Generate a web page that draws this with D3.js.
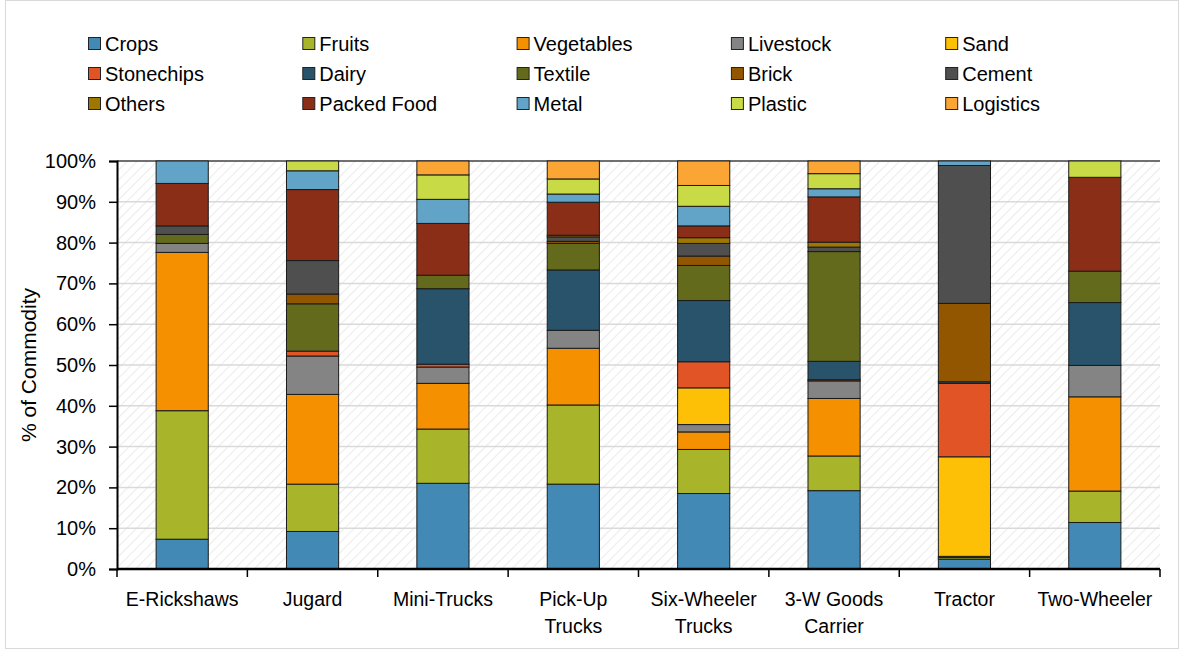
<!DOCTYPE html>
<html>
<head>
<meta charset="utf-8">
<script src="https://cdn.jsdelivr.net/npm/d3@7"></script>
<style>
  html, body { margin: 0; padding: 0; background: #fff; }
  svg { display: block; font-family: "Liberation Sans", Arial, sans-serif; }
</style>
</head>
<body>
<svg id="chart" width="1184" height="653"></svg>
<script>
// Vehicle types on the x axis (multi-line labels split on "\n")
const vehicles = ["E-Rickshaws", "Jugard", "Mini-Trucks", "Pick-Up\nTrucks",
  "Six-Wheeler\nTrucks", "3-W Goods\nCarrier", "Tractor", "Two-Wheeler"];

// Commodity series, in stacking order (bottom to top)
const commodities = ["Crops", "Fruits", "Vegetables", "Livestock", "Sand",
  "Stonechips", "Dairy", "Textile", "Brick", "Cement",
  "Others", "Packed Food", "Metal", "Plastic", "Logistics"];

const colors = ["#4389b6", "#a8b52a", "#f59000", "#848484", "#fdc007",
  "#e05426", "#28536b", "#646a1c", "#935600", "#4f4f4f",
  "#9e7700", "#8a2e17", "#62a4c8", "#c8da45", "#fba634"];

// Share (%) of each commodity per vehicle type, one array per commodity
const crops      = [7.3,  9.2, 21.0, 20.8, 18.5, 19.2,  2.4, 11.4];
const fruits     = [31.5, 11.6, 13.3, 19.4, 10.8,  8.5,  0.4,  7.7];
const vegetables = [38.8, 22.0, 11.2, 13.9,  4.3, 14.1,  0.3, 23.1];
const livestock  = [2.2,  9.4,  4.0,  4.4,  1.8,  4.3,  0.0,  7.7];
const sand       = [0.0,  0.0,  0.0,  0.0,  9.0,  0.0, 24.4,  0.0];
const stonechips = [0.0,  1.2,  0.7,  0.0,  6.4,  0.3, 18.0,  0.0];
const dairy      = [0.0,  0.0, 18.5, 14.8, 15.0,  4.5,  0.4, 15.4];
const textile    = [2.2, 11.6,  3.3,  6.5,  8.6, 26.9,  0.0,  7.7];
const brick      = [0.0,  2.4,  0.0,  0.5,  2.3,  0.0, 19.2,  0.0];
const cement     = [2.1,  8.2,  0.0,  1.1,  3.1,  1.1, 33.8,  0.0];
const others     = [0.0,  0.0,  0.0,  0.4,  1.4,  1.2,  0.0,  0.0];
const packedFood = [10.4, 17.4, 12.7,  8.1,  2.9, 11.1,  0.0, 23.0];
const metal      = [5.5,  4.6,  5.9,  2.0,  4.8,  2.0,  1.1,  0.0];
const plastic    = [0.0,  2.4,  6.0,  3.7,  5.1,  3.7,  0.0,  4.0];
const logistics  = [0.0,  0.0,  3.4,  4.4,  6.0,  3.1,  0.0,  0.0];

const yTicks = [0, 10, 20, 30, 40, 50, 60, 70, 80, 90, 100];

const seriesValues = [crops, fruits, vegetables, livestock, sand, stonechips,
  dairy, textile, brick, cement, others, packedFood, metal, plastic, logistics];

// Build row objects for d3.stack
const rows = vehicles.map((v, i) => {
  const r = { vehicle: v };
  commodities.forEach((c, k) => { r[c] = seriesValues[k][i]; });
  return r;
});

const svg = d3.select("#chart");
const W = 1184, H = 653;
const margin = { left: 117, right: 24, top: 161, bottom: 84 };
const plotW = W - margin.left - margin.right;
const plotH = H - margin.top - margin.bottom;

// Outer chart frame
svg.append("rect")
  .attr("x", 5.5).attr("y", 0.5)
  .attr("width", W - 11).attr("height", H - 5)
  .attr("fill", "#fff").attr("stroke", "#d9d9d9").attr("stroke-width", 1);

// Diagonal hatch fill for the plot background
const defs = svg.append("defs");
const pat = defs.append("pattern")
  .attr("id", "hatch")
  .attr("patternUnits", "userSpaceOnUse")
  .attr("width", 7).attr("height", 7)
  .attr("patternTransform", "rotate(45)");
pat.append("rect").attr("width", 7).attr("height", 7).attr("fill", "#ffffff");
pat.append("line")
  .attr("x1", 0).attr("y1", 0).attr("x2", 0).attr("y2", 7)
  .attr("stroke", "#ececec").attr("stroke-width", 2.2);

const g = svg.append("g").attr("transform", `translate(${margin.left},${margin.top})`);

const x = d3.scaleBand().domain(vehicles).range([0, plotW]).paddingInner(0.6).paddingOuter(0.3);
const xBand = d3.scaleBand().domain(vehicles).range([0, plotW]);
const y = d3.scaleLinear().domain([0, 100]).range([plotH, 0]);

g.append("rect")
  .attr("width", plotW).attr("height", plotH)
  .attr("fill", "url(#hatch)");

// Horizontal gridlines
g.append("g")
  .selectAll("line")
  .data(yTicks.filter(t => t > 0))
  .join("line")
  .attr("x1", 0).attr("x2", plotW)
  .attr("y1", d => y(d)).attr("y2", d => y(d))
  .attr("stroke", t => t === 100 ? "#404040" : "#d9d9d9")
  .attr("stroke-width", 1.5);

// Stacked bars
const stack = d3.stack().keys(commodities);
const layers = stack(rows);

g.append("g")
  .selectAll("g")
  .data(layers)
  .join("g")
  .attr("fill", (d, i) => colors[i])
  .selectAll("rect")
  .data(d => d.filter(s => s[1] - s[0] > 0))
  .join("rect")
  .attr("x", d => x(d.data.vehicle))
  .attr("width", x.bandwidth())
  .attr("y", d => y(d[1]))
  .attr("height", d => y(d[0]) - y(d[1]))
  .attr("stroke", "#1a1a1a")
  .attr("stroke-width", 1);

// Y axis
const yAxis = d3.axisLeft(y)
  .tickValues(yTicks)
  .tickFormat(d => d + "%")
  .tickSize(8)
  .tickPadding(13);
const yg = g.append("g").call(yAxis);
yg.select(".domain").attr("stroke", "#000").attr("stroke-width", 2);
yg.selectAll(".tick line").attr("stroke", "#000").attr("stroke-width", 1.5);
yg.selectAll(".tick text")
  .attr("font-size", 20).attr("fill", "#000")
  .attr("font-family", "Liberation Sans, Arial, sans-serif");

// X axis with ticks on category boundaries
const xg = g.append("g").attr("transform", `translate(0,${plotH})`);
xg.append("line")
  .attr("x1", 0).attr("x2", plotW)
  .attr("stroke", "#000").attr("stroke-width", 2.5);
xg.selectAll("line.tk")
  .data(d3.range(vehicles.length + 1))
  .join("line")
  .attr("class", "tk")
  .attr("x1", i => i * xBand.step()).attr("x2", i => i * xBand.step())
  .attr("y1", 0).attr("y2", 8)
  .attr("stroke", "#000").attr("stroke-width", 1.5);

const labels = xg.selectAll("text")
  .data(vehicles)
  .join("text")
  .attr("text-anchor", "middle")
  .attr("font-size", 19.5)
  .attr("fill", "#000")
  .attr("transform", d => `translate(${xBand(d) + xBand.bandwidth() / 2},0)`);
labels.selectAll("tspan")
  .data(d => d.split("\n"))
  .join("tspan")
  .attr("x", 0)
  .attr("y", (d, i) => 37 + i * 27)
  .text(d => d);

// Y axis title
svg.append("text")
  .attr("transform", `translate(36,${margin.top + plotH / 2}) rotate(-90)`)
  .attr("text-anchor", "middle")
  .attr("font-size", 21)
  .attr("fill", "#000")
  .text("% of Commodity");

// Legend: 5 columns x 3 rows, row-major
const legend = svg.append("g");
const items = legend.selectAll("g")
  .data(commodities)
  .join("g")
  .attr("transform", (d, i) => `translate(${88 + (i % 5) * 214.3},${44 + Math.floor(i / 5) * 30})`);
items.append("rect")
  .attr("x", 0.5).attr("y", -6.5)
  .attr("width", 12).attr("height", 12)
  .attr("fill", (d, i) => colors[i])
  .attr("stroke", "#222").attr("stroke-width", 1);
items.append("text")
  .attr("x", 17).attr("y", 7)
  .attr("font-size", 20)
  .attr("fill", "#000")
  .text(d => d);
</script>
</body>
</html>
